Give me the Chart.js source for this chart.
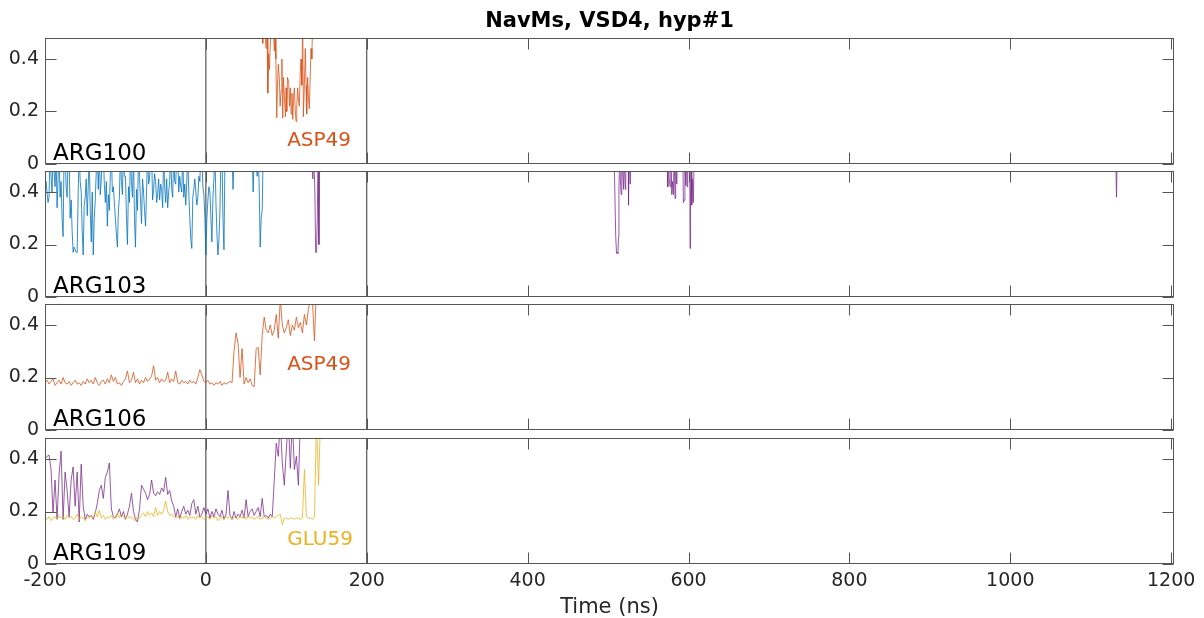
<!DOCTYPE html>
<html>
<head>
<meta charset="utf-8">
<script src="https://cdn.jsdelivr.net/npm/chart.js@4.4.1/dist/chart.umd.min.js"></script>
<style>
  html, body { margin: 0; padding: 0; background: #fff; }
  #wrap { position: relative; width: 1204px; height: 618px; }
  #wrap canvas { position: absolute; left: 0; top: 0; }
  #title { position: absolute; left: 45px; width: 1129px; top: 8px; text-align: center;
           font: bold 21px "DejaVu Sans"; color: #000; }
</style>
</head>
<body>
<div id="wrap">
  <canvas id="p0" width="1204" height="618"></canvas>
  <canvas id="p1" width="1204" height="618"></canvas>
  <canvas id="p2" width="1204" height="618"></canvas>
  <canvas id="p3" width="1204" height="618"></canvas>
  <div id="title">NavMs, VSD4, hyp#1</div>
</div>
<script>
// ---- data (distance, nm) ----
// uniform traces start at T0 and are sampled every DT ns (blue ARG103 every DT_FINE);
// values > 0.48 are off the axis
const T0 = -200, DT = 2.5, DT_FINE = 1.25;
const eventTimes = [0, 200];
const xTickValues = [-200, 0, 200, 400, 600, 800, 1000, 1200];
const yTickValues = [0, 0.2, 0.4];

// ARG100 - ASP49 (irregular samples)
const t100 = [68, 70, 70.7, 71.5, 73, 74.9, 76, 77, 78, 79, 80, 81.5, 83, 85.2, 86, 87, 88.1, 89, 90, 91.4,
  92.3, 93.5, 94.5, 95.5, 96.5, 97.5, 98.9, 99.7, 100.5, 101.5, 103, 104, 105, 105.9, 107, 108, 109, 110, 111, 112.1,
  113, 114.1, 115, 116.2, 117.2, 118.3, 119.3, 120.4, 121.2, 122.5, 123.6, 124.5, 125.3, 126.5, 127.5, 128.6, 129.6, 130.7, 131.7, 132.7, 134];
const arg100asp49 = [0.55, 0.55, 0.46, 0.55, 0.55, 0.44, 0.55, 0.27, 0.42, 0.36, 0.45, 0.55, 0.55, 0.43, 0.55, 0.40, 0.176, 0.30, 0.38, 0.32,
  0.22, 0.28, 0.40, 0.175, 0.33, 0.26, 0.18, 0.29, 0.20, 0.33, 0.31, 0.22, 0.29, 0.19, 0.27, 0.17, 0.25, 0.29, 0.21, 0.162,
  0.22, 0.29, 0.25, 0.22, 0.34, 0.40, 0.30, 0.55, 0.18, 0.31, 0.44, 0.30, 0.19, 0.33, 0.25, 0.21, 0.32, 0.44, 0.40, 0.55, 0.55];

// ARG103 - first partner (blue), every 1.25 ns from -200
const arg103blue = [
  0.41, 0.44, 0.40, 0.36, 0.38, 0.55, 0.46, 0.40, 0.55, 0.48, 0.42, 0.55, 0.34, 0.45, 0.55, 0.38, 0.44, 0.30, 0.23, 0.55,
  0.55, 0.42, 0.38, 0.55, 0.55, 0.30, 0.37, 0.25, 0.17, 0.19, 0.18, 0.17, 0.17, 0.40, 0.55, 0.44, 0.40, 0.25, 0.16, 0.35,
  0.38, 0.45, 0.31, 0.42, 0.55, 0.33, 0.21, 0.40, 0.16, 0.30, 0.37, 0.48, 0.55, 0.41, 0.55, 0.39, 0.45, 0.55, 0.55, 0.43,
  0.36, 0.44, 0.27, 0.39, 0.33, 0.47, 0.55, 0.40, 0.42, 0.36, 0.30, 0.24, 0.19, 0.33, 0.38, 0.55, 0.44, 0.39, 0.55, 0.46,
  0.46, 0.31, 0.20, 0.42, 0.36, 0.55, 0.44, 0.38, 0.55, 0.30, 0.19, 0.41, 0.33, 0.55, 0.46, 0.37, 0.28, 0.45, 0.40, 0.33,
  0.27, 0.40, 0.55, 0.43, 0.45, 0.55, 0.55, 0.37, 0.41, 0.47, 0.44, 0.36, 0.39, 0.45, 0.37, 0.43, 0.41, 0.34, 0.55, 0.42,
  0.36, 0.45, 0.34, 0.40, 0.44, 0.55, 0.41, 0.38, 0.55, 0.44, 0.43, 0.55, 0.55, 0.40, 0.46, 0.42, 0.40, 0.55, 0.38, 0.43,
  0.35, 0.44, 0.55, 0.40, 0.30, 0.22, 0.185, 0.38, 0.41, 0.45, 0.40, 0.35, 0.38, 0.46, 0.44, 0.55, 0.55, 0.42, 0.39, 0.30,
  0.16, 0.30, 0.37, 0.42, 0.40, 0.30, 0.21, 0.38, 0.45, 0.55, 0.36, 0.24, 0.16, 0.22, 0.33, 0.55, 0.55, 0.30, 0.18, 0.55,
  0.55, 0.55, 0.55, 0.55, 0.55, 0.50, 0.55, 0.41, 0.55, 0.55, 0.55, 0.55, 0.55, 0.55, 0.55, 0.55, 0.55, 0.55, 0.55, 0.55,
  0.55, 0.55, 0.55, 0.55, 0.55, 0.55, 0.55, 0.40, 0.55, 0.55, 0.55, 0.46, 0.55, 0.42, 0.19, 0.30, 0.33, 0.55, 0.55, 0.55,
  0.55];

// ARG103 - second partner (purple, irregular samples)
const t103p = [131, 133, 134, 135.5, 136.5, 137.5, 138.5, 139.5, 140.5, 141.5,
  507, 508, 509.5, 510.5, 511.5, 512.2, 513, 513.5, 514.5, 515.5, 516.3, 517, 519.2, 520, 521.3, 522, 525, 525.4, 526, 527.5, 528.5,
  573.5, 574.2, 575, 576, 577.1, 578, 579.2, 580, 581.2, 582, 583.3, 584, 585.4, 586, 593, 593.6, 594.9, 595.5, 596.5, 597.3,
  598.2, 599, 601.5, 601.9, 602.5, 603.3, 604, 604.8, 606, 607,
  1131, 1132, 1133];
const arg103purple = [0.55, 0.45, 0.55, 0.40, 0.17, 0.17, 0.30, 0.55, 0.20, 0.55,
  0.55, 0.46, 0.23, 0.166, 0.17, 0.166, 0.23, 0.42, 0.55, 0.425, 0.39, 0.55, 0.41, 0.55, 0.41, 0.55, 0.55, 0.35, 0.55, 0.43, 0.55,
  0.55, 0.42, 0.55, 0.45, 0.42, 0.55, 0.39, 0.44, 0.39, 0.55, 0.375, 0.55, 0.43, 0.55, 0.55, 0.36, 0.37, 0.55, 0.425, 0.55,
  0.42, 0.55, 0.55, 0.185, 0.40, 0.55, 0.35, 0.45, 0.36, 0.55,
  0.55, 0.38, 0.55];

// ARG106 - ASP49, every 2.5 ns from -200
const arg106asp49 = [
  0.18, 0.19, 0.175, 0.185, 0.195, 0.17, 0.18, 0.19, 0.175, 0.2,
  0.18, 0.175, 0.185, 0.17, 0.18, 0.19, 0.175, 0.18, 0.17, 0.185,
  0.175, 0.195, 0.18, 0.19, 0.175, 0.2, 0.18, 0.17, 0.185, 0.19,
  0.175, 0.195, 0.18, 0.21, 0.185, 0.2, 0.175, 0.18, 0.17, 0.185,
  0.195, 0.225, 0.18, 0.19, 0.22, 0.18, 0.195, 0.175, 0.19, 0.18,
  0.2, 0.185, 0.195, 0.205, 0.245, 0.19, 0.2, 0.18, 0.195, 0.185,
  0.19, 0.22, 0.18, 0.195, 0.185, 0.225, 0.18, 0.175, 0.19, 0.18,
  0.185, 0.175, 0.19, 0.18, 0.185, 0.175, 0.2, 0.23, 0.21, 0.185,
  0.18, 0.19, 0.175, 0.18, 0.17, 0.18, 0.175, 0.185, 0.17, 0.18,
  0.175, 0.18, 0.185, 0.18, 0.3, 0.37, 0.33, 0.2, 0.31, 0.175,
  0.2, 0.18, 0.195, 0.17, 0.165, 0.31, 0.315, 0.21, 0.36, 0.43,
  0.38, 0.37, 0.4, 0.36, 0.38, 0.44, 0.35, 0.5, 0.4, 0.37,
  0.39, 0.42, 0.36, 0.4, 0.38, 0.43, 0.39, 0.41, 0.37, 0.44,
  0.4, 0.46, 0.5, 0.49, 0.34, 0.55];

// ARG109 - first partner (purple), every 2.5 ns from -200
const arg109purple = [
  0.40, 0.41, 0.415, 0.36, 0.195, 0.32, 0.17, 0.34, 0.43, 0.17,
  0.35, 0.28, 0.18, 0.32, 0.37, 0.22, 0.35, 0.16, 0.38, 0.22,
  0.17, 0.19, 0.18, 0.185, 0.17, 0.195, 0.23, 0.28, 0.30, 0.25,
  0.33, 0.35, 0.385, 0.21, 0.18, 0.175, 0.19, 0.21, 0.18, 0.20,
  0.17, 0.19, 0.22, 0.27, 0.20, 0.17, 0.16, 0.21, 0.30, 0.285,
  0.27, 0.245, 0.265, 0.32, 0.27, 0.26, 0.275, 0.265, 0.29, 0.275,
  0.33, 0.265, 0.28, 0.24, 0.22, 0.18, 0.21, 0.175, 0.20, 0.22,
  0.19, 0.205, 0.185, 0.23, 0.245, 0.19, 0.22, 0.18, 0.19, 0.215,
  0.19, 0.21, 0.175, 0.20, 0.18, 0.21, 0.19, 0.18, 0.205, 0.17,
  0.19, 0.28, 0.185, 0.17, 0.20, 0.175, 0.19, 0.18, 0.205, 0.175,
  0.245, 0.18, 0.20, 0.21, 0.185, 0.20, 0.215, 0.18, 0.25, 0.18,
  0.185, 0.175, 0.19, 0.18, 0.32, 0.46, 0.41, 0.55, 0.385, 0.30,
  0.435, 0.55, 0.365, 0.55, 0.36, 0.41, 0.30, 0.55, 0.55, 0.55];

// ARG109 - GLU59 (yellow), every 2.5 ns from -200
const arg109glu59 = [
  0.175, 0.17, 0.18, 0.165, 0.175, 0.18, 0.17, 0.185, 0.175, 0.18,
  0.17, 0.185, 0.175, 0.18, 0.17, 0.175, 0.19, 0.17, 0.18, 0.175,
  0.165, 0.18, 0.175, 0.185, 0.175, 0.2, 0.18, 0.205, 0.175, 0.185,
  0.17, 0.18, 0.175, 0.185, 0.17, 0.18, 0.195, 0.175, 0.19, 0.18,
  0.17, 0.185, 0.175, 0.18, 0.17, 0.165, 0.18, 0.175, 0.185, 0.195,
  0.18, 0.2, 0.185, 0.195, 0.18, 0.215, 0.185, 0.2, 0.19, 0.205,
  0.24, 0.2, 0.185, 0.19, 0.18, 0.175, 0.185, 0.17, 0.18, 0.175,
  0.185, 0.17, 0.18, 0.175, 0.18, 0.17, 0.185, 0.175, 0.18, 0.17,
  0.175, 0.18, 0.17, 0.185, 0.175, 0.18, 0.165, 0.175, 0.18, 0.17,
  0.18, 0.175, 0.185, 0.17, 0.18, 0.175, 0.17, 0.18, 0.175, 0.185,
  0.17, 0.18, 0.175, 0.18, 0.17, 0.175, 0.18, 0.17, 0.175, 0.18,
  0.175, 0.17, 0.175, 0.18, 0.175, 0.18, 0.185, 0.19, 0.15, 0.175,
  0.175, 0.17, 0.175, 0.175, 0.17, 0.175, 0.175, 0.17, 0.175, 0.36,
  0.18, 0.175, 0.175, 0.17, 0.18, 0.55, 0.30, 0.55, 0.55];

// ---- look ----
const BLUE = '#0072BD', ORANGE = '#D95319', YELLOW = '#EDB120', PURPLE = '#7E2F8E';
const AXIS = '#262626';
const FONT = '"DejaVu Sans"';
const PLOT_LEFT = 45, PLOT_RIGHT = 1174;
const PANEL_TOPS = [38, 171, 304, 438];
const PANEL_H = 126;
const X_MIN = -200, X_MAX = 1203.5, Y_MIN = 0, Y_MAX = 0.48;
const TICK = 11;

const uniformTimes = (n, dt = DT) => Array.from({ length: n }, (_, i) => T0 + i * dt);
const toPoints = (times, vals) => vals.map((v, i) => ({ x: times[i], y: v }));

function trace(times, vals, color) {
  return {
    data: toPoints(times, vals),
    borderColor: color,
    borderWidth: 0.8,
    borderJoinStyle: 'round',
    pointRadius: 0,
    clip: 0,
  };
}

function eventLines() {
  return eventTimes.map((t) => ({
    data: [{ x: t, y: Y_MIN }, { x: t, y: Y_MAX }],
    borderColor: '#333',
    borderWidth: 1,
    pointRadius: 0,
    clip: 0,
  }));
}

// box with inward ticks on all four sides (matlab style)
const boxPlugin = {
  id: 'matlabBox',
  afterDatasetsDraw(chart) {
    const { ctx, chartArea: a, scales: { x, y } } = chart;
    const L = Math.round(a.left) + 0.5, R = Math.round(a.right) - 0.5;
    const T = Math.round(a.top) + 0.5, B = Math.round(a.bottom) - 0.5;
    ctx.save();
    ctx.strokeStyle = '#555';
    ctx.lineWidth = 1;
    ctx.strokeRect(L, T, R - L, B - T);
    ctx.beginPath();
    x.ticks.forEach((t) => {
      const px = Math.round(x.getPixelForValue(t.value)) + 0.5;
      ctx.moveTo(px, B); ctx.lineTo(px, B - TICK);
      ctx.moveTo(px, T); ctx.lineTo(px, T + TICK);
    });
    y.ticks.forEach((t) => {
      const py = Math.round(y.getPixelForValue(t.value)) + 0.5;
      ctx.moveTo(L, py); ctx.lineTo(L + TICK, py);
      ctx.moveTo(R, py); ctx.lineTo(R - TICK, py);
    });
    ctx.stroke();
    ctx.restore();
  },
};

// residue names, placed in data coordinates
const textPlugin = {
  id: 'panelText',
  afterDraw(chart, args, opts) {
    const { ctx, scales: { x, y } } = chart;
    ctx.save();
    ctx.textAlign = 'left';
    ctx.textBaseline = 'alphabetic';
    (opts.items || []).forEach((it) => {
      ctx.font = `${it.size}px ${FONT}`;
      ctx.fillStyle = it.color;
      ctx.fillText(it.text, x.getPixelForValue(it.x), y.getPixelForValue(it.y));
    });
    ctx.restore();
  },
};

function makePanel(id, idx, datasets, items) {
  const top = PANEL_TOPS[idx];
  const bottom = top + PANEL_H;
  const last = idx === PANEL_TOPS.length - 1;
  return new Chart(document.getElementById(id), {
    type: 'line',
    data: { datasets: [...datasets, ...eventLines()] },
    options: {
      responsive: false,
      animation: false,
      devicePixelRatio: 1,
      layout: { padding: { left: 0, right: 1204 - PLOT_RIGHT, top, bottom: last ? 0 : 618 - bottom } },
      plugins: {
        legend: { display: false },
        tooltip: { enabled: false },
        panelText: { items },
      },
      scales: {
        x: {
          type: 'linear',
          min: X_MIN,
          max: X_MAX,
          grid: { display: false, drawTicks: false },
          border: { display: false },
          afterBuildTicks: (s) => { s.ticks = xTickValues.map((value) => ({ value })); },
          ticks: {
            display: last,
            autoSkip: false,
            maxRotation: 0,
            padding: 6,
            color: AXIS,
            font: { family: FONT, size: 19 },
            callback: (v) => String(v),
          },
          title: {
            display: last,
            text: 'Time (ns)',
            color: AXIS,
            font: { family: FONT, size: 21 },
            padding: { top: 0, bottom: -2 },
          },
          afterFit: (s) => { s.height = last ? 618 - bottom : 0; },
        },
        y: {
          min: Y_MIN,
          max: Y_MAX,
          grid: { display: false, drawTicks: false },
          border: { display: false },
          afterBuildTicks: (s) => { s.ticks = yTickValues.map((value) => ({ value })); },
          ticks: {
            padding: 6,
            color: AXIS,
            font: { family: FONT, size: 19 },
            callback: (v) => String(+v.toFixed(1)),
          },
          afterFit: (s) => { s.width = PLOT_LEFT; },
        },
      },
    },
    plugins: [boxPlugin, textPlugin],
  });
}

const argLabel = (text) => ({ text, x: -190, y: 0.015, color: '#000', size: 23 });

makePanel('p0', 0, [trace(t100, arg100asp49, ORANGE)],
  [argLabel('ARG100'), { text: 'ASP49', x: 101, y: 0.07, color: ORANGE, size: 20 }]);

makePanel('p1', 1, [
  trace(t103p, arg103purple, PURPLE),
  trace(uniformTimes(arg103blue.length, DT_FINE), arg103blue, BLUE),
], [argLabel('ARG103')]);

makePanel('p2', 2, [trace(uniformTimes(arg106asp49.length), arg106asp49, ORANGE)],
  [argLabel('ARG106'), { text: 'ASP49', x: 101, y: 0.228, color: ORANGE, size: 20 }]);

makePanel('p3', 3, [
  trace(uniformTimes(arg109glu59.length), arg109glu59, YELLOW),
  trace(uniformTimes(arg109purple.length), arg109purple, PURPLE),
], [argLabel('ARG109'), { text: 'GLU59', x: 101, y: 0.072, color: YELLOW, size: 20 }]);
</script>
</body>
</html>
